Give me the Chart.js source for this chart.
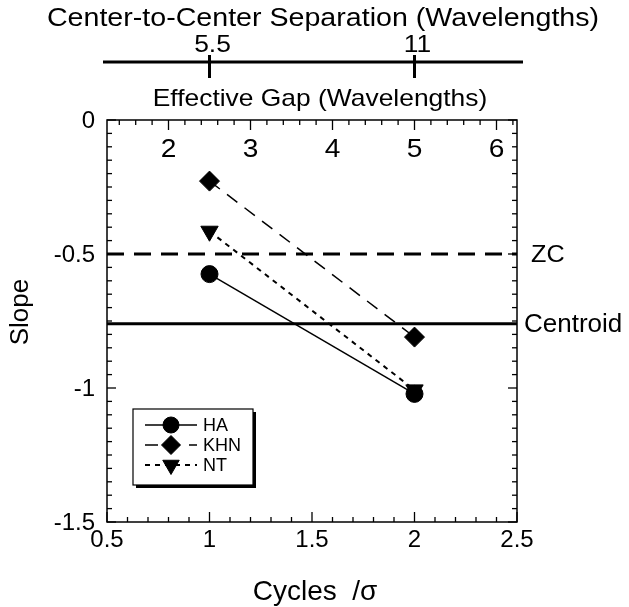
<!DOCTYPE html>
<html>
<head>
<meta charset="utf-8">
<script src="https://cdn.jsdelivr.net/npm/chart.js@4.4.1/dist/chart.umd.min.js"></script>
<style>
  html, body { margin: 0; padding: 0; background: #fff; }
  canvas { display: block; }
</style>
</head>
<body>
<canvas id="slopeChart" width="629" height="607"></canvas>
<script>
// slope vs. cycles per sigma, one entry per condition
const cycles = [1, 2];
const haSlope = [-0.575, -1.022];
const khnSlope = [-0.228, -0.81];
const ntSlope = [-0.415, -1.007];

// reference levels
const zcSlope = -0.5;
const centroidSlope = -0.76;

// axis labels
const cycleTicks = [0.5, 1, 1.5, 2, 2.5];
const slopeTicks = [0, -0.5, -1, -1.5];
const gapTicks = [2, 3, 4, 5, 6];
const separationTicks = [5.5, 11];

const FONT = '"Liberation Sans", Arial, Helvetica, sans-serif';
const cycleMin = cycleTicks[0];
const cycleMax = cycleTicks[cycleTicks.length - 1];

function toPoints(ys) {
  return cycles.map((c, i) => ({ x: c, y: ys[i] }));
}

function level(v) {
  return [{ x: cycleMin, y: v }, { x: cycleMax, y: v }];
}

function text(ctx, str, x, y, size, align, sx = 1, baseline = 'alphabetic') {
  ctx.save();
  ctx.font = size + 'px ' + FONT;
  ctx.fillStyle = '#000';
  ctx.textAlign = align;
  ctx.textBaseline = baseline;
  ctx.translate(x, y);
  ctx.scale(sx, 1);
  ctx.fillText(str, 0, 0);
  ctx.restore();
}

function seg(ctx, x1, y1, x2, y2) {
  ctx.beginPath();
  ctx.moveTo(x1, y1);
  ctx.lineTo(x2, y2);
  ctx.stroke();
}

const series = [
  { label: 'HA', data: toPoints(haSlope), borderDash: [], borderWidth: 1.5,
    pointStyle: 'circle', pointRadius: 8.5, pointRotation: 0 },
  { label: 'KHN', data: toPoints(khnSlope), borderDash: [13, 9], borderWidth: 1.5,
    pointStyle: 'rectRot', pointRadius: 10, pointRotation: 0 },
  { label: 'NT', data: toPoints(ntSlope), borderDash: [5, 5], borderWidth: 2,
    pointStyle: 'triangle', pointRadius: 10, pointRotation: 180 }
];

const axesPlugin = {
  id: 'axesPlugin',
  beforeDraw(chart) {
    const ctx = chart.ctx;
    ctx.save();
    ctx.fillStyle = '#fff';
    ctx.fillRect(0, 0, chart.width, chart.height);
    ctx.restore();
  },
  afterDatasetsDraw(chart) {
    const ctx = chart.ctx;
    const { left, right, top, bottom } = chart.chartArea;
    const xs = chart.scales.x, ys = chart.scales.y;
    const gap = chart.scales.gap, sep = chart.scales.sep;
    ctx.save();
    ctx.strokeStyle = '#000';
    ctx.lineWidth = 1.5;
    ctx.setLineDash([]);
    ctx.strokeRect(left, top, right - left, bottom - top);

    // slope ticks, both sides, pointing inwards
    ctx.lineWidth = 1.3;
    for (let i = 0; i <= 30; i++) {
      const py = ys.getPixelForValue(-1.5 + i * 0.05);
      const len = i % 10 === 0 ? 9 : 5;
      seg(ctx, left, py, left + len, py);
      seg(ctx, right, py, right - len, py);
    }
    // cycle ticks along the bottom
    for (let i = 0; i <= 20; i++) {
      const px = xs.getPixelForValue(cycleMin + i * 0.1);
      seg(ctx, px, bottom, px, bottom - (i % 5 === 0 ? 10 : 5));
    }
    // effective gap ticks along the top
    for (let i = 7; i <= 31; i++) {
      const px = gap.getPixelForValue(i * 0.2);
      seg(ctx, px, top, px, top + (i % 5 === 0 ? 10 : 5));
    }

    // centre-to-centre separation axis
    ctx.lineWidth = 3;
    seg(ctx, left - 4, 62, right + 6, 62);
    separationTicks.forEach(v => {
      const px = sep.getPixelForValue(v);
      seg(ctx, px, 55, px, 78);
      text(ctx, String(v), px + 3, 52, 24, 'center', 1.1);
    });
    text(ctx, 'Center-to-Center Separation (Wavelengths)', 323, 26, 26, 'center', 1.1);

    text(ctx, 'Effective Gap (Wavelengths)', 320, 106, 24, 'center', 1.1);
    gapTicks.forEach(v => {
      text(ctx, String(v), gap.getPixelForValue(v), 157, 26, 'center', 1.08);
    });

    slopeTicks.forEach(v => {
      text(ctx, String(v), 95, ys.getPixelForValue(v) + 1, 24, 'right', 1, 'middle');
    });
    cycleTicks.forEach(v => {
      text(ctx, String(v), xs.getPixelForValue(v), 547, 24, 'center');
    });
    text(ctx, 'Cycles  /\u03c3', 315, 600, 28, 'center');

    ctx.save();
    ctx.translate(28, 312);
    ctx.rotate(-Math.PI / 2);
    text(ctx, 'Slope', 0, 0, 26, 'center');
    ctx.restore();

    text(ctx, 'ZC', 531, ys.getPixelForValue(zcSlope) + 1, 24, 'left', 1.05, 'middle');
    text(ctx, 'Centroid', 524, ys.getPixelForValue(centroidSlope) + 1, 26, 'left', 1, 'middle');

    // legend box with drop shadow
    const bx = 133, by = 409, bw = 120, bh = 76;
    ctx.fillStyle = '#000';
    ctx.fillRect(bx + 3, by + 3, bw, bh);
    ctx.fillStyle = '#fff';
    ctx.fillRect(bx, by, bw, bh);
    ctx.lineWidth = 1.2;
    ctx.strokeRect(bx, by, bw, bh);
    series.forEach((s, i) => {
      const ly = by + 16 + i * 20;
      ctx.lineWidth = s.borderWidth;
      ctx.strokeStyle = '#000';
      ctx.setLineDash(s.borderDash);
      seg(ctx, bx + 12, ly, bx + 64, ly);
      ctx.setLineDash([]);
      ctx.fillStyle = '#000';
      ctx.lineWidth = 1;
      if (Chart.helpers && Chart.helpers.drawPoint) {
        Chart.helpers.drawPoint(ctx, {
          pointStyle: s.pointStyle,
          radius: s.pointRadius - 0.5,
          rotation: s.pointRotation,
          borderWidth: 1
        }, bx + 38, ly);
      }
      text(ctx, s.label, bx + 70, ly + 1, 18, 'left', 1, 'middle');
    });
    ctx.restore();
  }
};

const datasets = [
  { label: 'ZC', data: level(zcSlope), borderDash: [17, 10], borderWidth: 3, pointRadius: 0 },
  { label: 'Centroid', data: level(centroidSlope), borderWidth: 3, pointRadius: 0 }
].concat(series).map(d => Object.assign({
  showLine: true,
  borderColor: '#000',
  backgroundColor: '#000',
  pointBorderWidth: 1,
  clip: false
}, d));

new Chart(document.getElementById('slopeChart'), {
  type: 'scatter',
  data: { datasets },
  plugins: [axesPlugin],
  options: {
    responsive: false,
    animation: false,
    layout: { padding: { left: 107, top: 120, right: 112, bottom: 85 } },
    plugins: { legend: { display: false }, tooltip: { enabled: false } },
    scales: {
      x: { type: 'linear', min: cycleMin, max: cycleMax, display: false },
      y: { type: 'linear', min: -1.5, max: 0, display: false },
      gap: { type: 'linear', axis: 'x', position: 'top', min: 1.25, max: 6.25, display: false },
      sep: { type: 'linear', axis: 'x', position: 'top', min: 2.75, max: 13.75, display: false }
    }
  }
});
</script>
</body>
</html>
